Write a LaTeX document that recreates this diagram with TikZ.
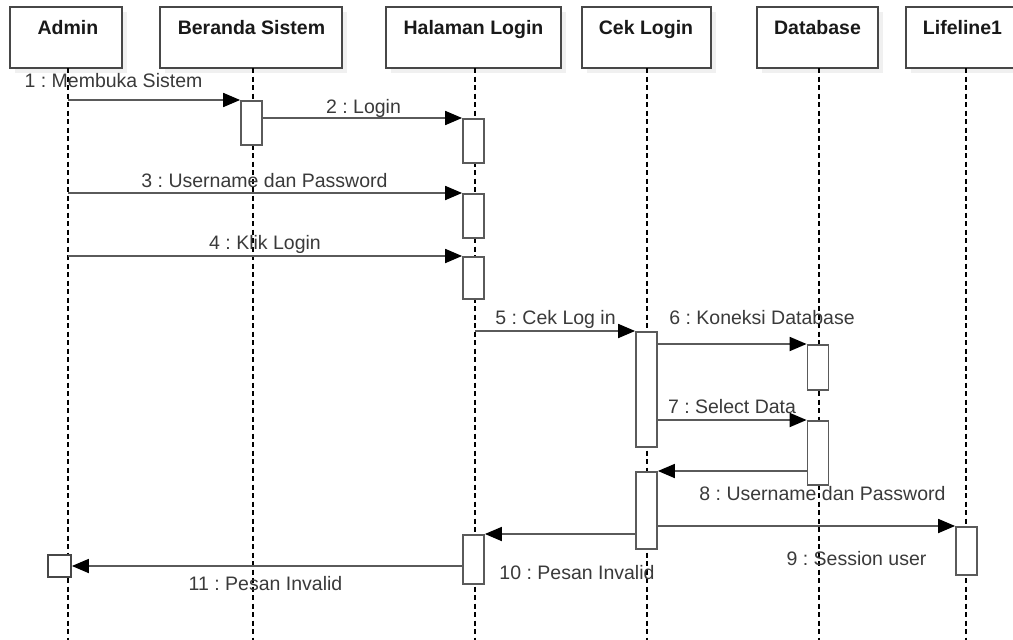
\documentclass[tikz,border=0pt]{standalone}
\usepackage{fontspec}
\setmainfont{Liberation Sans}
\usetikzlibrary{arrows.meta}
\definecolor{linegray}{HTML}{5A5A5A}
\definecolor{boxgray}{HTML}{474747}
\definecolor{txtgray}{HTML}{3A3A3A}
\frenchspacing
\begin{document}
\begin{tikzpicture}[x=1pt,y=-1pt,
  hdrbox/.style={draw=boxgray,line width=1.8pt,fill=white,minimum height=61pt,inner sep=0pt},
  hdrtext/.style={font=\fontsize{19.5}{23}\selectfont\bfseries,text=black!90,anchor=base,inner sep=0pt},
  lifeln/.style={black,line width=1.4pt,dash pattern=on 5pt off 3.5pt},
  actbox/.style={draw=linegray,line width=1.8pt,fill=white,minimum width=21pt,inner sep=0pt,anchor=north},
  msg/.style={draw=linegray,line width=1.8pt,-{Triangle[length=17pt,width=14pt,black]}},
  lbl/.style={font=\fontsize{19.5}{23}\selectfont,text=txtgray,anchor=base,inner sep=0pt}]
\useasboundingbox (0,0) rectangle (1013,640);
\clip (0,0) rectangle (1013,640);
\fill[white] (0,0) rectangle (1013,640);

% header shadows
\foreach \a/\b in {10/122,160/342,386/561,582/711,757/878,906/1020}{
  \fill[black!6] (\a+5,12) rectangle (\b+5,73);
}
% header boxes
\node[hdrbox,minimum width=112pt] (hA) at (66,37.5) {};
\node[hdrbox,minimum width=182pt] (hB) at (251,37.5) {};
\node[hdrbox,minimum width=175pt] (hH) at (473.5,37.5) {};
\node[hdrbox,minimum width=129pt] (hC) at (646.5,37.5) {};
\node[hdrbox,minimum width=121pt] (hD) at (817.5,37.5) {};
\node[hdrbox,minimum width=114pt] (hL) at (963,37.5) {};
\node[hdrtext] (tA) at (68,34) {Admin};
\node[hdrtext] (tB) at (251.5,34) {Beranda Sistem};
\node[hdrtext] (tH) at (473.5,34) {Halaman Login};
\node[hdrtext] (tC) at (646,34) {Cek Login};
\node[hdrtext] (tD) at (817.5,34) {Database};
\node[hdrtext] (tL) at (962.5,34) {Lifeline1};

% lifelines
\coordinate (lA) at (68,68);  \coordinate (lAe) at (68,640);
\coordinate (lB) at (253,68); \coordinate (lBe) at (253,640);
\coordinate (lH) at (475,68); \coordinate (lHe) at (475,640);
\coordinate (lC) at (647,68); \coordinate (lCe) at (647,640);
\coordinate (lD) at (819,68); \coordinate (lDe) at (819,640);
\coordinate (lL) at (966,68); \coordinate (lLe) at (966,640);
\foreach \s/\e in {lA/lAe,lB/lBe,lH/lHe,lC/lCe,lD/lDe,lL/lLe}{
  \draw[lifeln] (\s) -- (\e);
}

% activation boxes
\node[actbox,minimum height=44pt] (a1) at (251.5,100) {};
\node[actbox,minimum height=44pt] (a2) at (473.5,118) {};
\node[actbox,minimum height=44pt] (a3) at (473.5,193) {};
\node[actbox,minimum height=42pt] (a4) at (473.5,256) {};
\node[actbox,minimum height=115pt] (a5) at (646.5,331) {};
\node[actbox,minimum height=45pt] (a6) at (818,344) {};
\node[actbox,minimum height=64pt] (a7) at (818,420) {};
\node[actbox,minimum height=77pt] (a8) at (646.5,471) {};
\node[actbox,minimum height=48pt] (a9) at (966.5,526) {};
\node[actbox,minimum height=49pt] (a10) at (473.5,534) {};
\node[draw=boxgray,line width=1.8pt,fill=white,minimum width=23pt,minimum height=22pt,inner sep=0pt] (sq) at (59.5,566) {};

% message start coordinates on lifelines
\coordinate (s1) at (68,100);
\coordinate (s3) at (68,193);
\coordinate (s4) at (68,256);
\coordinate (s5) at (475,331);

% messages
\draw[msg] (s1) -- (a1.north west);
\draw[msg] (a1.east |- a2.north) -- (a2.north west);
\draw[msg] (s3) -- (a3.north west);
\draw[msg] (s4) -- (a4.north west);
\draw[msg] (s5) -- (a5.north west);
\draw[msg] (a5.east |- a6.north) -- (a6.north west);
\draw[msg] (a5.east |- a7.north) -- (a7.north west);
\draw[msg] (a7.west |- a8.north) -- (a8.north east);
\draw[msg] (a8.east |- a9.north) -- (a9.north west);
\draw[msg] (a8.west |- a10.north) -- (a10.north east);
\draw[msg] (a10.west |- sq.east) -- (sq.east);

% labels
\node[lbl] (m1) at (113.5,87) {1 : Membuka Sistem};
\node[lbl] (m2) at (363.5,113.5) {2 : Login};
\node[lbl] (m3) at (264.5,187.5) {3 : Username dan Password};
\node[lbl] (m4) at (265,249.5) {4 : Klik Login};
\node[lbl] (m5) at (555.5,324.5) {5 : Cek Log in};
\node[lbl] (m6) at (762,324.5) {6 : Koneksi Database};
\node[lbl] (m7) at (732,413.5) {7 : Select Data};
\node[lbl] (m8) at (822.5,500.5) {8 : Username dan Password};
\node[lbl] (m9) at (856.5,565.5) {9 : Session user};
\node[lbl] (m10) at (577,579.5) {10 : Pesan Invalid};
\node[lbl] (m11) at (265.5,590.5) {11 : Pesan Invalid};
\end{tikzpicture}
\end{document}
